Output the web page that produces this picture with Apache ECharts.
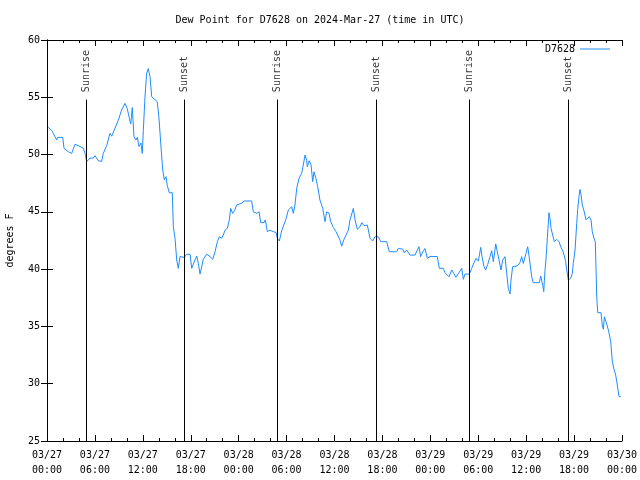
<!DOCTYPE html>
<html>
<head>
<meta charset="utf-8">
<script src="https://cdn.jsdelivr.net/npm/echarts@6/dist/echarts.min.js"></script>
<style>html,body{margin:0;padding:0;background:#fff}#c{width:640px;height:480px}</style>
</head>
<body>
<div id="c"></div>
<script>
// hours since 2024-03-27 00:00 UTC
var hours = [0.16,0.59,0.79,1.0,1.21,1.31,1.97,2.13,2.67,3.09,3.29,3.51,4.13,4.55,4.76,4.97,5.38,5.80,6.01,6.42,6.85,7.05,7.48,7.89,8.10,8.51,8.93,9.35,9.77,10.06,10.31,10.48,10.68,10.89,11.14,11.31,11.52,11.77,11.93,12.06,12.27,12.48,12.68,12.90,13.11,13.52,13.81,14.02,14.24,14.49,14.69,14.90,15.06,15.31,15.69,15.82,16.03,16.24,16.44,16.65,16.87,17.19,17.49,17.69,17.91,18.12,18.32,18.53,18.75,18.95,19.16,19.37,19.57,20.0,20.41,20.75,21.04,21.33,21.58,21.88,22.08,22.29,22.58,22.83,23.0,23.25,23.54,23.75,24.38,24.67,25.63,25.83,26.26,26.55,26.76,27.17,27.34,27.59,27.92,28.14,28.34,28.68,28.84,29.09,29.39,29.59,29.89,30.22,30.64,30.84,31.05,31.27,31.56,31.89,32.09,32.31,32.52,32.59,32.84,33.06,33.27,33.43,33.68,33.90,34.18,34.52,34.81,35.02,35.31,35.52,35.85,36.19,36.40,36.69,36.90,37.19,37.44,37.73,37.94,38.15,38.36,38.57,38.86,39.19,39.41,39.69,40.11,40.45,40.78,41.07,41.49,41.79,42.54,42.86,43.79,43.99,44.54,44.74,45.04,45.45,46.08,46.37,46.58,46.79,47.04,47.33,47.62,47.96,48.87,49.12,49.62,49.84,50.05,50.34,50.68,50.96,51.21,51.50,51.93,52.13,52.34,52.88,53.18,53.47,53.72,54.01,54.31,54.47,54.72,54.93,55.18,55.47,55.68,55.89,56.19,56.39,56.60,56.85,57.06,57.35,57.56,57.76,57.98,58.10,58.31,58.73,59.02,59.23,59.44,59.64,59.98,60.19,60.39,60.69,60.89,61.65,61.82,61.95,62.07,62.20,62.27,62.36,62.49,62.65,62.86,62.99,63.11,63.28,63.53,63.83,64.11,64.36,64.58,64.78,64.95,65.08,65.28,65.58,65.78,65.90,66.12,66.33,66.45,66.62,66.74,66.87,67.03,67.28,67.49,67.70,67.90,68.12,68.28,68.49,68.66,68.83,68.96,69.37,69.53,69.66,69.80,70.01,70.16,70.37,70.59,70.79,71.0,71.21,71.41,71.63,71.84];
var dewPoint = [52.38,52.1,52.0,51.56,51.27,51.5,51.5,50.55,50.25,50.1,49.96,50.9,50.7,50.55,50.1,49.4,49.67,49.7,49.9,49.47,49.4,50.1,50.8,51.86,51.6,52.3,53.0,53.9,54.47,54.0,53.17,52.67,54.1,51.56,51.27,51.5,50.7,51.0,50.1,52.1,55.05,57.1,57.5,56.8,55.05,54.8,54.6,53.2,51.0,48.65,47.8,48.07,47.3,46.67,46.67,43.7,42.7,40.8,40.07,41.09,41.2,41.03,41.3,41.47,41.3,40.07,40.07,40.8,41.15,40.5,39.57,40.2,40.86,41.3,41.09,40.86,41.5,42.4,42.83,42.7,42.98,43.4,43.56,44.3,45.3,44.87,45.2,45.6,45.75,45.95,45.95,45.0,44.87,45.0,44.06,44.06,44.3,43.27,43.4,43.5,43.27,43.2,42.7,42.45,43.35,43.2,44.3,45.16,45.45,44.87,45.6,47.06,47.93,48.37,49.09,49.96,49.5,48.94,49.47,49.1,47.64,48.5,47.9,47.2,46.03,45.3,44.14,45.0,44.9,44.14,43.65,43.27,43.4,42.54,42.0,42.6,42.7,43.4,44.3,44.14,45.3,44.3,43.48,43.7,44.06,43.8,43.85,42.7,42.46,42.83,42.83,42.4,42.4,41.52,41.52,41.8,41.75,41.43,41.67,41.23,41.23,41.67,41.96,41.09,41.5,41.8,40.95,41.1,41.1,40.07,40.07,39.69,39.69,39.34,39.93,39.6,39.29,39.6,40.07,39.11,39.57,39.57,40.07,40.56,40.95,40.7,41.9,41.09,40.22,39.93,40.4,41.09,41.61,40.65,42.2,41.5,40.8,39.93,40.8,41.09,39.64,38.33,37.83,39.05,40.22,40.25,40.36,40.6,41.09,40.5,41.38,41.96,41.0,39.34,38.82,38.82,39.4,39.5,38.6,38.03,38.9,39.9,40.95,42.7,44.93,44.4,43.56,43.4,42.4,42.6,42.4,41.9,41.6,41.15,40.65,39.93,39.05,39.2,39.64,40.5,41.67,44.0,45.2,46.38,46.96,46.5,45.6,45.0,44.3,44.14,44.58,44.3,43.27,42.7,42.4,37.74,36.2,36.2,35.12,34.75,35.85,35.7,35.04,34.45,33.67,31.92,31.26,30.76,29.89,28.87,28.87];
var xTickLabels = ['03/27\n00:00','03/27\n06:00','03/27\n12:00','03/27\n18:00','03/28\n00:00','03/28\n06:00','03/28\n12:00','03/28\n18:00','03/29\n00:00','03/29\n06:00','03/29\n12:00','03/29\n18:00','03/30\n00:00'];
var yTicks = [25,30,35,40,45,50,55,60];
var eventHours = [4.92,17.19,28.84,41.24,52.88,65.28];
var eventNames = ['Sunrise','Sunset','Sunrise','Sunset','Sunrise','Sunset'];
var eventLineTop = 54.8;
var eventLabelBase = 55.45;

var FONT = 'DejaVu Sans Mono';
var lineData = hours.map(function(h,i){return [h, dewPoint[i]];});
var markData = eventHours.map(function(h){return [{coord:[h,eventLineTop]},{coord:[h,25]}];});
var labelData = eventHours.map(function(h,i){return {value:[h,eventLabelBase], name:eventNames[i]};});

var chart = echarts.init(document.getElementById('c'), null, {renderer:'canvas'});
var tickCommon = {inside:true, length:6, lineStyle:{color:'#000'}};
chart.setOption({
  animation:false,
  backgroundColor:'#fff',
  title:{text:'Dew Point for D7628 on 2024-Mar-27 (time in UTC)', left:'center', top:10,
    textStyle:{fontFamily:FONT, fontSize:10, fontWeight:'normal', color:'#000'}},
  legend:{data:[{name:'D7628', icon:'rect'}], right:25, top:39, align:'right', itemWidth:30, itemHeight:1,
    textStyle:{fontFamily:FONT, fontSize:10, color:'#000'}},
  grid:{left:47, right:18, top:40, bottom:39, containLabel:false, outerBoundsMode:'none'},
  xAxis:[{type:'value', min:0, max:72, interval:6, position:'bottom',
      axisLine:{lineStyle:{color:'#000', width:1}},
      axisTick:tickCommon,
      minorTick:{show:true, splitNumber:3, length:3, lineStyle:{color:'#000'}},
      splitLine:{show:false},
      axisLabel:{margin:7, lineHeight:15, color:'#000', fontFamily:FONT, fontSize:10,
        formatter:function(v){return xTickLabels[Math.round(v/6)];}}},
    {type:'value', min:0, max:72, interval:6, position:'top',
      axisLine:{lineStyle:{color:'#000', width:1}},
      axisTick:tickCommon,
      minorTick:{show:true, splitNumber:3, length:3, lineStyle:{color:'#000'}},
      splitLine:{show:false}, axisLabel:{show:false}}],
  yAxis:[{type:'value', min:25, max:60, interval:5, position:'left',
      name:'degrees F', nameLocation:'middle', nameGap:32,
      nameTextStyle:{fontFamily:FONT, fontSize:10, color:'#000'},
      axisLine:{show:true, lineStyle:{color:'#000', width:1}},
      axisTick:tickCommon, splitLine:{show:false},
      axisLabel:{margin:7, color:'#000', fontFamily:FONT, fontSize:10,
        formatter:function(v){return yTicks.indexOf(v)>=0 ? String(v) : '';}}},
    {type:'value', min:25, max:60, interval:5, position:'right',
      axisLine:{show:true, lineStyle:{color:'#000', width:1}},
      axisTick:tickCommon, splitLine:{show:false}, axisLabel:{show:false}}],
  series:[
    {name:'D7628', type:'line', data:lineData, symbol:'none', showSymbol:false,
      lineStyle:{color:'#1e8cff', width:1}, itemStyle:{color:'#1e8cff'}, z:3,
      markLine:{silent:true, symbol:['none','none'], label:{show:false},
        lineStyle:{color:'#000', width:1, type:'solid'}, data:markData}},
    {name:'events', type:'scatter', data:labelData, symbolSize:0, silent:true,
      label:{show:true, formatter:'{b}', position:[0,0], rotate:90, align:'left', verticalAlign:'middle',
        fontFamily:FONT, fontSize:10, color:'#000'}}
  ]
});
</script>
</body>
</html>
